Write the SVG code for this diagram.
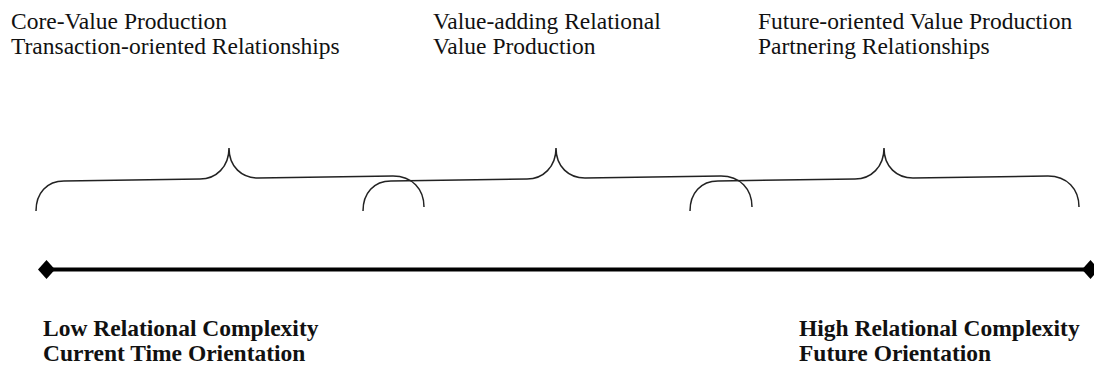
<svg xmlns="http://www.w3.org/2000/svg" width="1094" height="367" viewBox="0 0 1094 367">
<style>
.t{font-family:"Liberation Serif","Times New Roman",serif;font-size:23.5px;fill:#111}
.b{font-weight:bold}
.br{fill:none;stroke:#222;stroke-width:1.5}
.axis{stroke:#000;stroke-width:4}
.dm{fill:#000}
</style>
<rect width="1094" height="367" fill="#fff"/>
<g id="label-core">
<text class="t" x="11" y="29">Core-Value Production</text>
<text class="t" x="11" y="54">Transaction-oriented Relationships</text>
</g>
<g id="label-value-adding">
<text class="t" x="433" y="29">Value-adding Relational</text>
<text class="t" x="433" y="54">Value Production</text>
</g>
<g id="label-future">
<text class="t" x="758" y="29">Future-oriented Value Production</text>
<text class="t" x="758" y="54">Partnering Relationships</text>
</g>
<g id="brace-1">
<path class="br" d="M36 211 C36 193 47 181 64 181 L200 179 C216 179 229 167 229 148 C229 167 242 178 258 178 L393 176 C412 176 424 189 424 207"/>
</g>
<g id="brace-2">
<path class="br" d="M363 211 C363 193 374 181 391 181 L527 179 C543 179 556 167 556 148 C556 167 569 178 585 178 L721 176 C740 176 752 189 752 207"/>
</g>
<g id="brace-3">
<path class="br" d="M690 211 C690 193 701 181 718 181 L855 179 C871 179 884 167 884 148 C884 167 897 178 913 178 L1048 176 C1067 176 1079 189 1079 207"/>
</g>
<g id="connectors">
<line class="axis" x1="46" y1="269.5" x2="1090" y2="269.5"/>
<polygon class="dm" points="38,269.5 46.5,260 55,269.5 46.5,279"/>
<polygon class="dm" points="1082,269.5 1090.5,260 1099,269.5 1090.5,279"/>
</g>
<g id="label-low">
<text class="t b" x="43" y="336">Low Relational Complexity</text>
<text class="t b" x="43" y="361">Current Time Orientation</text>
</g>
<g id="label-high">
<text class="t b" x="799" y="336">High Relational Complexity</text>
<text class="t b" x="799" y="361">Future Orientation</text>
</g>
</svg>
